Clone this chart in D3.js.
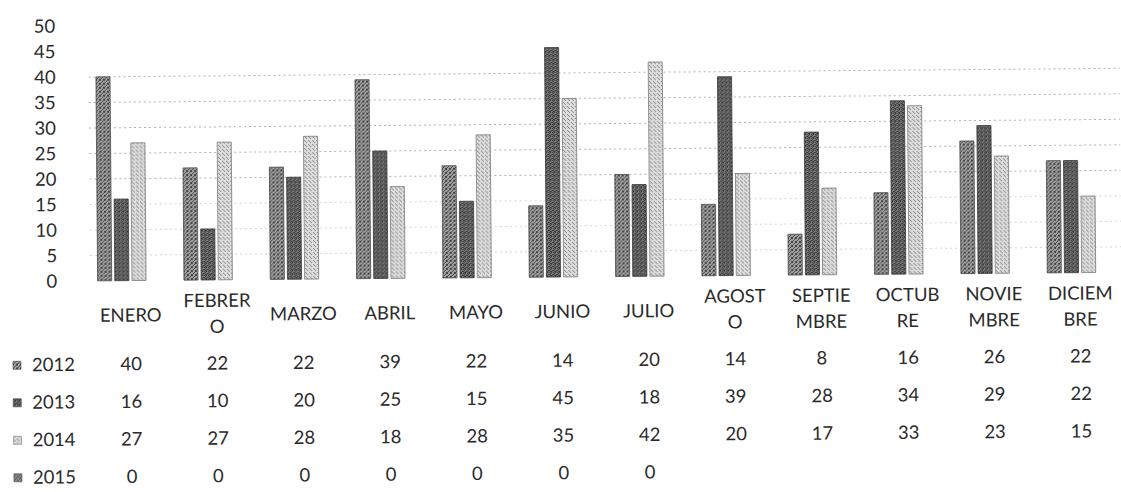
<!DOCTYPE html>
<html>
<head>
<meta charset="utf-8">
<script src="https://cdn.jsdelivr.net/npm/d3@7"></script>
<style>
  html, body { margin: 0; padding: 0; background: #fff; }
  svg { display: block; }
  text { font-family: Lato, "Open Sans", sans-serif; fill: #2a2a2a; }
</style>
</head>
<body>
<svg id="chart" width="1121" height="492"></svg>
<script>
// Monthly counts per year
const months = ["ENERO", "FEBRERO", "MARZO", "ABRIL", "MAYO", "JUNIO", "JULIO",
                "AGOSTO", "SEPTIEMBRE", "OCTUBRE", "NOVIEMBRE", "DICIEMBRE"];
// Axis labels wrap the long month names onto two lines
const monthLines = [["ENERO"], ["FEBRER", "O"], ["MARZO"], ["ABRIL"], ["MAYO"], ["JUNIO"],
                    ["JULIO"], ["AGOST", "O"], ["SEPTIE", "MBRE"], ["OCTUB", "RE"],
                    ["NOVIE", "MBRE"], ["DICIEM", "BRE"]];
const years = ["2012", "2013", "2014", "2015"];
const values2012 = [40, 22, 22, 39, 22, 14, 20, 14, 8, 16, 26, 22];
const values2013 = [16, 10, 20, 25, 15, 45, 18, 39, 28, 34, 29, 22];
const values2014 = [27, 27, 28, 18, 28, 35, 42, 20, 17, 33, 23, 15];
const values2015 = [0, 0, 0, 0, 0, 0, 0, null, null, null, null, null];
const yTicks = [0, 5, 10, 15, 20, 25, 30, 35, 40, 45, 50];

const series = [values2012, values2013, values2014, values2015];
const FONT = "18.5px";

const svg = d3.select("#chart");
const defs = svg.append("defs");

// Halftone-like textures for the grey series fills
function texture(id, base, dots, dotColor) {
  const p = defs.append("pattern")
    .attr("id", id).attr("patternUnits", "userSpaceOnUse")
    .attr("width", 4).attr("height", 4);
  p.append("rect").attr("width", 4).attr("height", 4).attr("fill", base);
  dots.forEach(([x, y]) => p.append("rect").attr("x", x).attr("y", y)
    .attr("width", 1).attr("height", 1).attr("fill", dotColor));
}
texture("tex2012", "#a4a4a4", [[0,0],[2,1],[1,2],[3,3],[0,3],[3,0]], "#404040");
texture("tex2013", "#7e7e7e", [[0,0],[2,0],[1,1],[3,2],[0,2],[2,3],[1,3]], "#303030");
texture("tex2014", "#dedede", [[1,0],[3,2],[0,3]], "#808080");
texture("tex2015", "#909090", [[0,0],[2,1],[1,2],[3,3]], "#383838");
const fills = ["url(#tex2012)", "url(#tex2013)", "url(#tex2014)", "url(#tex2015)"];
const edges = ["#4a4a4a", "#3a3a3a", "#7a7a7a", "#4a4a4a"];

// Whole sheet is drawn slightly tilted
const root = svg.append("g").attr("transform", "rotate(-0.48 560 246)");

const x = d3.scaleBand().domain(months).range([87, 1123])
  .paddingInner(0.24).paddingOuter(0.12);
const xs = d3.scaleBand().domain(years).range([0, x.bandwidth()])
  .paddingInner(0.18).paddingOuter(0);
const y = d3.scaleLinear().domain([0, 50]).range([277, 22]);

// Dotted gridlines
root.append("g").selectAll("line")
  .data(yTicks.filter(t => t > 0 && t < 45))
  .join("line")
  .attr("x1", 90).attr("x2", 1121)
  .attr("y1", d => y(d)).attr("y2", d => y(d))
  .attr("stroke", "#9a9a9a").attr("stroke-width", 1)
  .attr("stroke-dasharray", "2 3").attr("opacity", d => d >= 20 ? 0.75 : 0.4);

// Value axis labels
const yAxis = d3.axisLeft(y).tickValues(yTicks).tickSize(0).tickPadding(0);
const yg = root.append("g").attr("transform", "translate(57,0)").call(yAxis);
yg.select(".domain").remove();
yg.selectAll("text").style("font-size", FONT).attr("fill", "#2a2a2a")
  .style("font-family", "Lato, 'Open Sans', sans-serif");

// Bars
const groups = root.append("g").selectAll("g")
  .data(months).join("g")
  .attr("transform", d => `translate(${x(d)},0)`);
groups.selectAll("rect")
  .data((m, i) => series.map((s, k) => ({ year: years[k], k, v: s[i] })).filter(d => d.v != null && d.v > 0))
  .join("rect")
  .attr("x", d => xs(d.year))
  .attr("width", xs.bandwidth())
  .attr("y", d => y(d.v))
  .attr("height", d => y(0) - y(d.v))
  .attr("fill", d => fills[d.k])
  .attr("stroke", d => edges[d.k])
  .attr("stroke-width", 0.8);

// Category labels
const xl = root.append("g").selectAll("text")
  .data(months).join("text")
  .attr("text-anchor", "middle")
  .attr("x", d => x(d) + x.bandwidth() / 2)
  .style("font-size", FONT);
xl.each(function (d, i) {
  const lines = monthLines[i];
  const t = d3.select(this);
  const y0 = lines.length === 1 ? 318 : 304;
  lines.forEach((ln, j) => t.append("tspan")
    .attr("x", x(d) + x.bandwidth() / 2)
    .attr("y", y0 + j * 26)
    .text(ln));
});

// Data table beneath the chart
const rowY = d3.scaleBand().domain(years).range([342, 492]);
const table = root.append("g");
years.forEach((yr, k) => {
  const cy = rowY(yr) + rowY.bandwidth() / 2;
  table.append("rect").attr("x", 12).attr("y", cy - 4).attr("width", 8).attr("height", 8)
    .attr("fill", fills[k]).attr("stroke", edges[k]).attr("stroke-width", 0.6);
  table.append("text").attr("x", 31).attr("y", cy + 6)
    .style("font-size", FONT).text(yr);
  table.append("g").selectAll("text")
    .data(series[k].map((v, i) => ({ v, m: months[i] })).filter(d => d.v != null))
    .join("text")
    .attr("text-anchor", "middle")
    .attr("x", d => x(d.m) + x.bandwidth() / 2)
    .attr("y", cy + 6)
    .style("font-size", FONT)
    .text(d => d.v);
});
</script>
</body>
</html>
